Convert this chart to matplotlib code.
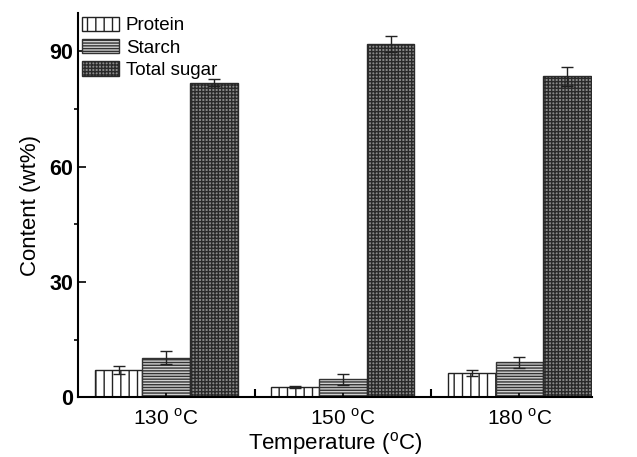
import matplotlib.pyplot as plt
import numpy as np

temps = ['130 $^{\\mathrm{o}}$C', '150 $^{\\mathrm{o}}$C', '180 $^{\\mathrm{o}}$C']
protein = [7.0, 2.7, 6.3]
protein_err = [1.1, 0.3, 0.8]
starch = [10.3, 4.6, 9.1]
starch_err = [1.6, 1.4, 1.4]
sugar = [81.9, 91.9, 83.5]
sugar_err = [0.8, 2.0, 2.5]

plt.rcParams['font.family'] = ['Liberation Sans', 'DejaVu Sans']
plt.rcParams['mathtext.fontset'] = 'custom'
plt.rcParams['mathtext.rm'] = 'Liberation Sans'
plt.rcParams['hatch.linewidth'] = 1.0
plt.rcParams['hatch.color'] = '#333333'

fig = plt.figure(figsize=(6.37, 4.57), dpi=100)
ax = fig.add_axes([0.1225, 0.131, 0.8065, 0.8406])

x = np.arange(1, 4)
w = 0.27
ekw = dict(ecolor='#222222', elinewidth=1, capsize=4, capthick=1)

ax.bar(x - w, protein, w, yerr=protein_err, color='white', edgecolor='#222222',
       hatch='||', linewidth=1, label='Protein', error_kw=ekw)
ax.bar(x, starch, w, yerr=starch_err, color='#d0d0d0', edgecolor='#333333',
       hatch='------', linewidth=1, label='Starch', error_kw=ekw)
ax.bar(x + w, sugar, w, yerr=sugar_err, color='#8a8a8a', edgecolor='#2a2a2a',
       hatch='+++++', linewidth=1, label='Total sugar', error_kw=ekw)

ax.set_xlim(0.5, 3.41)
ax.set_ylim(0, 100)
ax.set_yticks([0, 30, 60, 90])
ax.set_yticks([15, 45, 75], minor=True)
ax.set_xticks(x)
ax.set_xticklabels(temps, fontsize=15)
ax.set_xticks([1.5, 2.5], minor=True)
ax.tick_params(axis='y', which='major', direction='in', length=6, width=1.2,
               labelsize=15.5)
ax.tick_params(axis='y', which='minor', direction='out', length=3, width=1.2)
ax.tick_params(axis='x', which='major', direction='in', length=3, width=1.2, pad=8)
ax.tick_params(axis='x', which='minor', direction='in', length=6, width=1.5)
for t in ax.get_yticklabels():
    t.set_fontweight('bold')

ax.spines['top'].set_visible(False)
ax.spines['right'].set_visible(False)
ax.spines['left'].set_linewidth(1.5)
ax.spines['bottom'].set_linewidth(1.5)

ax.set_xlabel('Temperature ($^{\\mathrm{o}}$C)', fontsize=16, labelpad=1)
ax.set_ylabel('Content (wt%)', fontsize=16, labelpad=6)

ax.legend(loc='upper left', frameon=False, fontsize=13.5, handlelength=2.0,
          handleheight=0.8, handletextpad=0.35, labelspacing=0.25,
          borderaxespad=0.0, borderpad=0.2)

fig.savefig('out.png', dpi=100)
